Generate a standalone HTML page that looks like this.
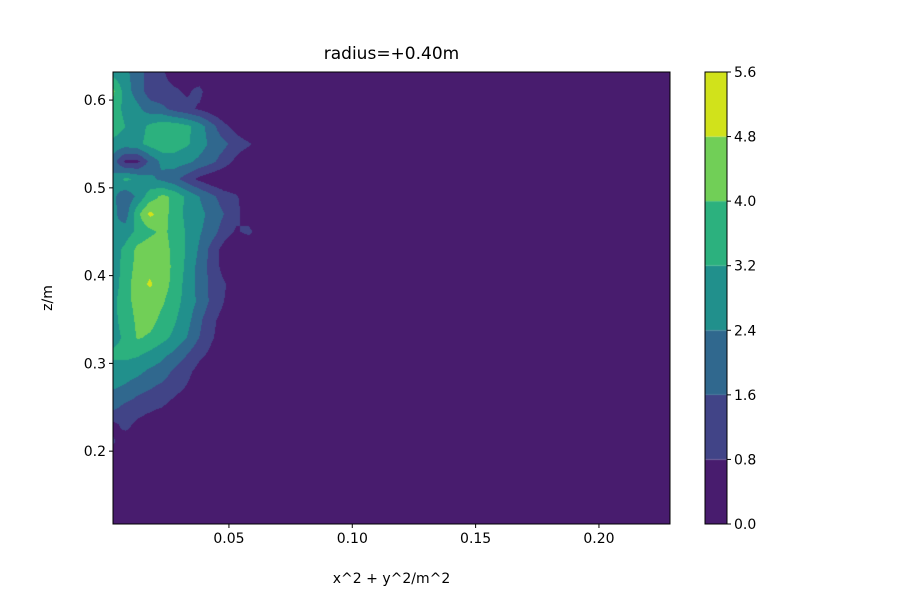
<!DOCTYPE html>
<html><head><meta charset="utf-8"><style>
body{margin:0;background:#fff;font-family:"DejaVu Sans","Liberation Sans",sans-serif;}
#wrap{position:relative;width:900px;height:600px;overflow:hidden;}
</style></head><body>
<div id="wrap">
<canvas id="cv" width="900" height="600" style="position:absolute;left:0;top:0"></canvas>
<svg id="sv" width="900" height="600" style="position:absolute;left:0;top:0;font-family:'DejaVu Sans','Liberation Sans',sans-serif"></svg>
</div>
<script>
const xVals=[0.003,0.008,0.013,0.018,0.023,0.028,0.033,0.038,0.043,0.048,0.053,0.058,0.063];
const zVals=[0.63,0.61,0.59,0.57,0.55,0.53,0.51,0.49,0.47,0.45,0.43,0.41,0.39,0.37,0.35,0.33,0.31,0.29,0.27,0.25,0.23,0.21,0.19,0.17,0.15,0.13];
const gridValues=[
[3.0,2.6,2.0,1.2,0.9,0.5,0.6,0.3,0,0,0,0,0],
[4.2,2.8,2.0,1.2,1.0,0.9,0.7,1.0,0.3,0,0,0,0],
[3.6,3.0,2.6,2.0,1.8,1.3,1.0,0.7,0.3,0,0,0,0],
[3.6,3.2,2.8,3.4,3.7,3.7,3.4,2.8,1.9,1.0,0.5,0,0],
[3.0,2.8,3.0,3.5,3.8,3.6,3.3,2.8,2.2,1.8,1.2,0.9,0.4],
[2.0,0.6,0.6,1.8,2.6,2.8,2.6,2.2,1.8,1.2,0.6,0.2,0],
[2.6,3.4,3.0,2.6,2.2,1.8,1.2,0.6,0.2,0,0,0,0],
[2.6,1.8,2.6,3.6,4.2,3.8,3.0,2.4,1.8,1.2,0.9,0.3,0],
[2.6,2.0,3.8,5.0,4.4,3.6,3.0,2.6,2.2,1.6,1.0,0.4,0],
[2.4,2.8,3.4,3.8,4.2,3.7,3.1,2.5,2.0,1.2,0.7,1.0,0.3],
[2.8,3.4,4.2,4.5,4.3,3.8,3.1,2.3,1.3,0.5,0,0,0],
[2.8,3.5,4.3,4.6,4.4,3.8,3.0,2.1,1.3,0.5,0,0,0],
[2.8,3.6,4.5,4.9,4.4,3.7,2.9,2.1,1.4,0.9,0.3,0,0],
[3.0,3.7,4.3,4.4,4.1,3.5,2.9,2.2,1.4,0.8,0.3,0,0],
[3.0,3.5,4.2,4.3,3.8,3.3,2.7,1.8,1.0,0.5,0,0,0],
[3.0,3.3,4.1,3.9,3.5,3.0,2.4,1.6,0.9,0.4,0,0,0],
[3.3,3.4,3.3,3.0,2.6,2.2,1.6,1.0,0.6,0.2,0,0,0],
[3.0,2.8,2.6,2.2,2.0,1.4,1.0,0.5,0.2,0,0,0,0],
[2.4,2.2,1.8,1.6,1.3,1.0,0.7,0.4,0,0,0,0,0],
[1.8,1.4,1.2,1.0,0.8,0.5,0.2,0,0,0,0,0,0],
[0.6,1.0,0.6,0.3,0,0,0,0,0,0,0,0,0],
[0.9,0.4,0.8,0.2,0,0,0,0.8,0.8,0,0,0,0],
[0,0,0,0,0,0,0,0,0,0,0,0,0],
[0,0,0,0,0,0,0,0,0,0,0,0,0],
[0,0,0,0,0,0,0,0,0,0,0,0,0],
[0,0,0,0,0,0,0,0,0,0,0,0,0]];
const levels=[0,0.8,1.6,2.4,3.2,4.0,4.8,5.6];
const bandColors=["#481c6e","#414487","#30688e","#21908c","#2cb17e","#71cf57","#d1e21b"];
const xTicks=[0.05,0.10,0.15,0.20];
const yTicks=[0.2,0.3,0.4,0.5,0.6];
const cbTicks=["0.0","0.8","1.6","2.4","3.2","4.0","4.8","5.6"];

const L=113,R=670,T=72,B=524,x0=0.003,x1=0.2288,z0=0.117,z1=0.632;
const sx=x=>L+(x-x0)/(x1-x0)*(R-L);
const sy=z=>B-(z-z0)/(z1-z0)*(B-T);
const ix=p=>x0+(p-L)/(R-L)*(x1-x0);
const iz=p=>z0+(B-p)/(B-T)*(z1-z0);
function val(x,z){
  const nx=xVals.length,nz=zVals.length;
  if(x>xVals[nx-1])return 0;
  let fx=(x-xVals[0])/(xVals[1]-xVals[0]);fx=Math.max(0,Math.min(nx-1.0001,fx));
  let fz=(zVals[0]-z)/(zVals[0]-zVals[1]);fz=Math.max(0,Math.min(nz-1.0001,fz));
  const i=Math.floor(fx),j=Math.floor(fz),a=fx-i,b=fz-j;
  const g=gridValues;
  return (g[j][i]*(1-a)+g[j][i+1]*a)*(1-b)+(g[j+1][i]*(1-a)+g[j+1][i+1]*a)*b;
}
function band(v){for(let k=levels.length-2;k>=0;k--)if(v>=levels[k])return k;return 0;}
const ctx=document.getElementById('cv').getContext('2d');
ctx.fillStyle=bandColors[0];ctx.fillRect(L,T,R-L,B-T);
for(let py=T;py<B;py++){for(let px=L;px<R;px++){
  const v=val(ix(px+0.5),iz(py+0.5));const k=band(v);
  if(k>0){ctx.fillStyle=bandColors[k];ctx.fillRect(px,py,1,1);}
}}
const CL=705,CR=727;
for(let k=0;k<bandColors.length;k++){
  const yA=B-(levels[k+1]/5.6)*(B-T),yB=B-(levels[k]/5.6)*(B-T);
  ctx.fillStyle=bandColors[k];ctx.fillRect(CL,yA,CR-CL,yB-yA);
}
const NS="http://www.w3.org/2000/svg",sv=document.getElementById('sv');
function el(t,a,txt){const e=document.createElementNS(NS,t);for(const k in a)e.setAttribute(k,a[k]);if(txt!==undefined)e.textContent=txt;sv.appendChild(e);return e;}
let e=el('rect',{x:L,y:T,width:R-L,height:B-T,fill:'none',stroke:'#000','stroke-width':1});

e=el('rect',{x:CL,y:T,width:CR-CL,height:B-T,fill:'none',stroke:'#000','stroke-width':1});

xTicks.forEach(t=>{const x=sx(t);el('line',{x1:x,x2:x,y1:B,y2:B+4,stroke:'#000'});
  e=el('text',{x:x,y:B+19,'font-size':14,'text-anchor':'middle'},t.toFixed(2));
  });
yTicks.forEach(t=>{const y=sy(t);el('line',{x1:L-4,x2:L,y1:y,y2:y,stroke:'#000'});
  e=el('text',{x:L-7,y:y+5,'font-size':14,'text-anchor':'end'},t.toFixed(1));
  });
cbTicks.forEach(t=>{const y=B-(parseFloat(t)/5.6)*(B-T);el('line',{x1:CR,x2:CR+4,y1:y,y2:y,stroke:'#000'});
  e=el('text',{x:CR+7,y:y+5,'font-size':14},t);
  });
e=el('text',{x:(L+R)/2,y:59,'font-size':17,'text-anchor':'middle'},'radius=+0.40m');

e=el('text',{x:(L+R)/2,y:583,'font-size':14,'text-anchor':'middle'},'x^2 + y^2/m^2');

e=el('text',{x:52,y:298,'font-size':14,'text-anchor':'middle',transform:'rotate(-90 52 298)'},'z/m');

</script>
</body></html>
